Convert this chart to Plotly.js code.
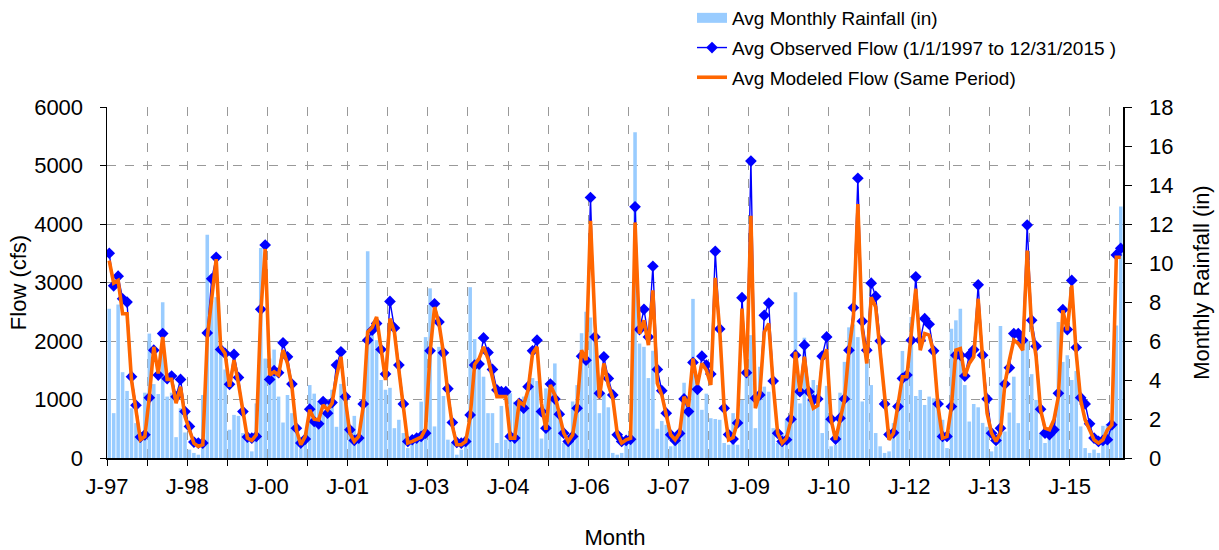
<!DOCTYPE html>
<html>
<head>
<meta charset="utf-8">
<script src="https://cdn.plot.ly/plotly-3.0.1.min.js"></script>
<style>
html,body{margin:0;padding:0;background:#fff;}
#chart{width:1219px;height:550px;}
</style>
</head>
<body>
<div id="chart"></div>
<script>
// Monthly series, Jan 1997 .. Dec 2015 (228 months)
var observedFlow = [3500,2944,3108,2722,2666,1390,902,357,397,1032,
1843,1418,2127,1356,1401,1049,1344,794,539,272,
255,255,2138,3063,3431,1855,1787,1259,1770,1378,
794,357,340,369,2541,3641,1344,1492,1458,1968,
1730,1265,510,255,323,834,624,584,964,766,
947,1588,1815,1049,482,301,340,925,2014,2184,
2300,1855,1435,2677,2223,1588,925,284,312,340,
369,425,1832,2637,2326,1798,1185,607,267,255,
284,737,1588,1605,2053,1804,1514,1163,1134,1134,
369,340,936,851,1219,1832,2014,794,510,1265,
1010,749,425,284,369,851,1741,1673,4453,2070,
1106,1730,1361,1078,397,284,301,320,4293,2195,
2541,2070,3278,1514,1151,766,397,301,420,1010,
794,1634,1174,1741,1588,1435,3534,2206,851,400,
323,600,2740,1458,5076,1021,1078,2439,2649,1316,
425,284,312,664,1758,1134,1928,1134,993,1010,
1741,2070,664,323,681,1010,1843,2569,4782,2337,
1843,2989,2762,2002,925,400,430,879,1361,1418,
2014,3097,2014,2382,2286,1832,925,369,369,879,
1758,1758,1401,1758,1850,2960,1758,1010,425,301,
510,1265,1543,2127,2127,2014,3982,2354,1911,834,
425,400,482,1106,2535,2195,3035,1889,1032,925,
584,340,284,301,312,567,3471,3585];

var modeledFlow = [3375,2990,3035,2467,2467,1333,822,312,369,1049,
1900,1446,2070,1344,1344,936,1219,709,482,255,
199,227,2050,2800,3400,1900,1787,1219,1673,1276,
794,340,300,397,2467,3573,1418,1475,1418,1843,
1617,1219,482,227,369,822,664,652,907,822,
936,1390,1730,993,425,284,369,879,2155,2230,
2411,1843,1333,2382,2150,1500,907,255,284,320,
357,500,1800,2580,2300,1800,1100,550,227,227,
284,700,1600,1700,1900,1700,1400,1049,1049,1049,
340,340,964,907,1163,1787,1900,936,482,1248,
1078,766,425,284,397,879,1843,1673,4055,2300,
1021,1617,1248,1021,425,255,312,340,4027,2127,
2354,1928,2864,1276,1078,737,397,312,425,1049,
879,1702,1248,1616,1503,1248,3080,2184,850,312,
350,624,2553,1390,4140,850,1106,2150,2300,1248,
425,255,340,652,1815,1134,1730,1100,850,900,
1673,1855,652,312,652,993,1843,2400,4340,2200,
1617,2750,2580,1843,990,312,425,879,1390,1390,
2127,2893,1843,2127,2100,1815,879,340,369,879,
1843,1870,1401,1617,1730,2722,1700,766,425,284,
425,1276,1673,2014,1957,1843,3545,2240,1730,822,
510,482,652,1049,2524,2184,2950,1787,993,652,
482,312,255,312,482,567,3431,3431];

var rainfall = [7.65,2.30,7.87,4.40,3.44,2.55,1.79,1.30,3.35,6.38,
3.79,3.28,7.99,3.15,3.35,1.07,2.55,1.31,0.43,0.26,
0.17,3.23,11.45,8.08,8.25,5.36,4.54,1.45,2.21,2.16,
1.28,1.10,0.34,2.80,10.77,5.10,5.10,5.56,3.15,1.82,
3.23,2.30,1.45,0.50,0.90,3.74,3.30,2.90,2.30,2.90,
3.50,1.60,3.80,3.15,1.60,2.16,1.10,2.70,10.60,6.50,
6.04,4.00,3.50,3.60,1.53,1.96,1.28,0.51,0.77,0.94,
2.89,6.20,8.70,1.62,5.70,3.18,0.94,0.77,0.17,0.43,
1.10,8.76,6.10,5.00,4.17,2.30,2.30,0.77,2.67,0.94,
3.32,2.89,2.47,3.15,3.60,4.10,3.95,1.00,3.57,3.66,
4.85,2.38,0.77,0.85,2.90,3.74,6.40,7.50,7.20,6.20,
2.30,3.30,2.60,0.26,0.17,0.26,0.77,1.45,16.70,5.87,
5.70,4.10,5.50,1.50,1.90,1.70,0.60,1.28,1.28,3.86,
2.70,8.16,3.85,2.47,3.30,2.04,2.00,1.96,0.77,0.68,
2.30,0.68,2.98,5.00,6.30,1.53,4.68,3.66,3.40,1.53,
0.77,1.28,1.96,2.38,8.50,2.80,6.17,3.06,4.00,3.74,
1.28,3.70,0.60,0.68,3.35,4.93,6.70,6.85,6.20,2.90,
5.10,3.74,1.28,0.60,0.26,0.34,1.79,2.98,5.49,4.17,
7.23,3.18,3.49,2.72,3.15,3.06,3.06,1.96,0.51,6.63,
7.06,7.65,3.74,1.87,2.77,2.60,1.80,1.60,0.34,0.60,
6.77,1.36,2.33,4.17,1.79,5.60,6.00,4.30,2.98,1.28,
0.77,1.53,1.87,6.97,4.93,5.27,4.00,4.46,1.62,0.51,
0.26,0.43,0.26,1.65,1.75,1.70,6.80,12.90];

// Tick labels: one every 18 months (minor ticks every 9 months)
var tickLabels = ["J-97","J-98","J-00","J-01","J-03","J-04","J-06","J-07","J-09","J-10","J-12","J-13","J-15"];

var seriesNames = ["Avg Monthly Rainfall (in)",
                   "Avg Observed Flow (1/1/1997 to 12/31/2015 )",
                   "Avg Modeled Flow (Same Period)"];

var months = rainfall.map(function(_, i){ return i; });

var tickvals = [], ticktext = [];
for (var k = 0; k * 9 - 0.5 <= months.length - 1; k++) {
  tickvals.push(k * 9 - 0.5);
  ticktext.push(k % 2 === 0 ? (tickLabels[k / 2] || "") : "");
}

var FONT = "Liberation Sans, Arial, sans-serif";

var traces = [
  { // legend swatch for rainfall (wide bar look)
    type: "scatter", mode: "lines", x: [null], y: [null],
    name: seriesNames[0], line: {color: "#99CCFF", width: 11},
    yaxis: "y", legendgroup: "a", hoverinfo: "skip"
  },
  {
    type: "bar", x: months, y: rainfall, name: seriesNames[0],
    marker: {color: "#99CCFF", line: {width: 0}},
    yaxis: "y", showlegend: false, legendgroup: "a"
  },
  {
    type: "scatter", mode: "lines+markers", x: months, y: observedFlow,
    name: seriesNames[1], yaxis: "y2", legendgroup: "b",
    line: {color: "#0000FF", width: 1.4},
    marker: {symbol: "diamond", size: 9, color: "#0000FF"}
  },
  {
    type: "scatter", mode: "lines", x: months, y: modeledFlow,
    name: seriesNames[2], yaxis: "y2", legendgroup: "c",
    line: {color: "#FF6600", width: 3.6}
  }
];

var layout = {
  width: 1219, height: 550,
  margin: {l: 107, r: 96, t: 107, b: 92, autoexpand: false},
  paper_bgcolor: "#fff", plot_bgcolor: "rgba(0,0,0,0)",
  font: {family: FONT, size: 22, color: "#000"},
  bargap: 0.2,
  showlegend: true,
  legend: {
    x: 0.5758, y: 1.0285, xanchor: "left", yanchor: "bottom",
    font: {family: FONT, size: 19, color: "#000"},
    bgcolor: "rgba(0,0,0,0)", tracegroupgap: 2,
    traceorder: "grouped"
  },
  xaxis: {
    range: [-0.5, months.length - 0.5],
    tickmode: "array", tickvals: tickvals, ticktext: ticktext,
    ticks: "outside", ticklen: 6, tickcolor: "#000", tickwidth: 1,
    showline: true, linecolor: "#000", linewidth: 1.5,
    showgrid: true, gridcolor: "#999", griddash: "dash", gridwidth: 1,
    zeroline: false, tickfont: {size: 22}, ticklabelstandoff: 2,
    title: {text: "Month", font: {size: 22}, standoff: 40}
  },
  yaxis: {
    side: "right", range: [0, 18], dtick: 2, tick0: 0,
    ticks: "outside", ticklen: 7, tickcolor: "#000",
    showline: true, linecolor: "#000", linewidth: 1.5,
    showgrid: false, zeroline: false, tickfont: {size: 22},
    ticklabelstandoff: 13,
    title: {text: "Monthly Rainfall (in)", font: {size: 22}, standoff: 21}
  },
  yaxis2: {
    overlaying: "y", side: "left", range: [0, 6000], dtick: 1000, tick0: 0,
    ticks: "outside", ticklen: 6, tickcolor: "#000",
    showline: true, linecolor: "#000", linewidth: 1.5,
    showgrid: true, gridcolor: "#999", griddash: "dash", gridwidth: 1,
    zeroline: false, tickfont: {size: 22}, ticklabelstandoff: 12,
    title: {text: "Flow (cfs)", font: {size: 22}, standoff: 1}
  }
};

Plotly.newPlot("chart", traces, layout, {displayModeBar: false, staticPlot: true});
</script>
</body>
</html>
